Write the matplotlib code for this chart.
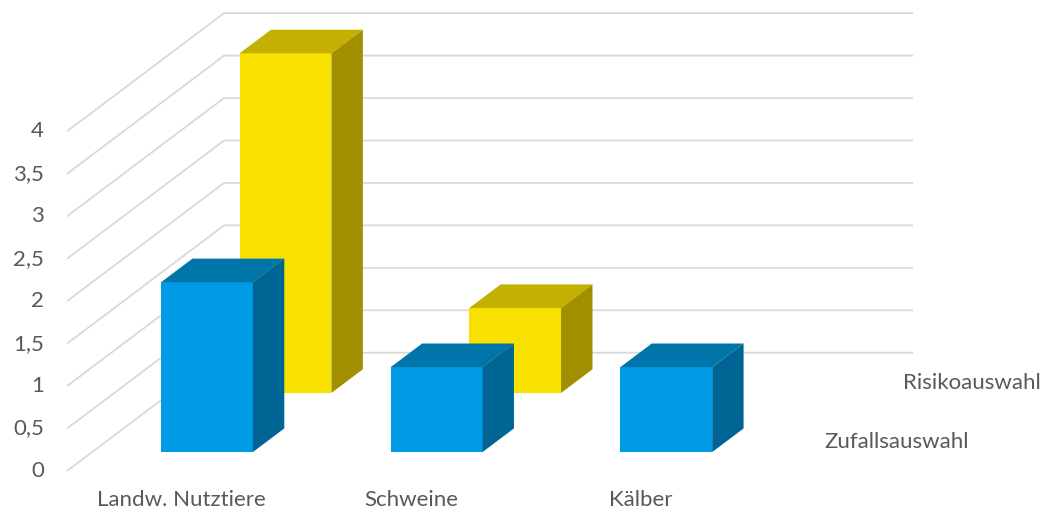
import numpy as np
import matplotlib
matplotlib.use("Agg")
import matplotlib.pyplot as plt

# ---------------- data ----------------
categories = ["Landw. Nutztiere", "Schweine", "Kälber"]
series = ["Zufallsauswahl", "Risikoauswahl"]
zufall = [2.0, 1.0, 1.0]
risiko = [4.0, 1.0, 0.0]
yticks = [0, 0.5, 1, 1.5, 2, 2.5, 3, 3.5, 4]
ytick_labels = ["0", "0,5", "1", "1,5", "2", "2,5", "3", "3,5", "4"]

# ---------------- style ----------------
plt.rcParams["font.family"] = ["Lato", "DejaVu Sans"]
TXT = "#595959"
GRID = "#d9d9d9"
FS = 16
colors = {
    "Zufallsauswahl": ("#009be4", "#0075aa", "#006495"),  # front, top, side
    "Risikoauswahl": ("#f8e000", "#c3b000", "#a28f00"),
}

# oblique projection of the depth axis (full depth, in x/y data units)
DX, DY = 0.684, 1.393
bar_w = 0.40
depth_center = {"Zufallsauswahl": 0.26, "Risikoauswahl": 0.76}
bar_d = 0.20
n = len(categories)

fig = plt.figure(figsize=(10.45, 5.14), dpi=100)
ax = fig.add_axes([0, 0, 1, 1])
ax.set_xlim(-0.2917, 4.2587)
ax.set_ylim(-0.5065, 5.5477)
ax.axis("off")

# gridlines: side wall (diagonal) + back wall (horizontal)
for t, lab in zip(yticks, ytick_labels):
    ax.plot([0, DX, n + DX], [t, t + DY, t + DY], color=GRID, lw=1.3, zorder=1,
            solid_capstyle="butt")
    ax.text(-0.1, t, lab, ha="right", va="center", fontsize=FS, color=TXT)


def draw_bar(i, v, name):
    if v <= 0:
        return
    front, top, side = colors[name]
    d0 = depth_center[name] - bar_d / 2
    d1 = depth_center[name] + bar_d / 2
    x0 = i + 0.5 - bar_w / 2
    x1 = x0 + bar_w
    ox0, oy0 = d0 * DX, d0 * DY
    ox1, oy1 = d1 * DX, d1 * DY
    z = 3 if name == "Zufallsauswahl" else 2
    # front face
    ax.fill([x0 + ox0, x1 + ox0, x1 + ox0, x0 + ox0],
            [oy0, oy0, v + oy0, v + oy0], color=front, lw=0, zorder=z)
    # top face
    ax.fill([x0 + ox0, x1 + ox0, x1 + ox1, x0 + ox1],
            [v + oy0, v + oy0, v + oy1, v + oy1], color=top, lw=0, zorder=z)
    # right side face
    ax.fill([x1 + ox0, x1 + ox1, x1 + ox1, x1 + ox0],
            [oy0, oy1, v + oy1, v + oy0], color=side, lw=0, zorder=z)


for i, v in enumerate(risiko):
    draw_bar(i, v, "Risikoauswahl")
for i, v in enumerate(zufall):
    draw_bar(i, v, "Zufallsauswahl")

# category labels
for i, c in enumerate(categories):
    ax.text(i + 0.5, -0.34, c, ha="center", va="center", fontsize=FS, color=TXT)

# depth axis labels
for name in series:
    d = depth_center[name]
    ax.text(n + 0.12 + d * DX, -0.02 + d * DY, name, ha="left", va="center",
            fontsize=FS, color=TXT)

fig.savefig("out.png", dpi=100)
